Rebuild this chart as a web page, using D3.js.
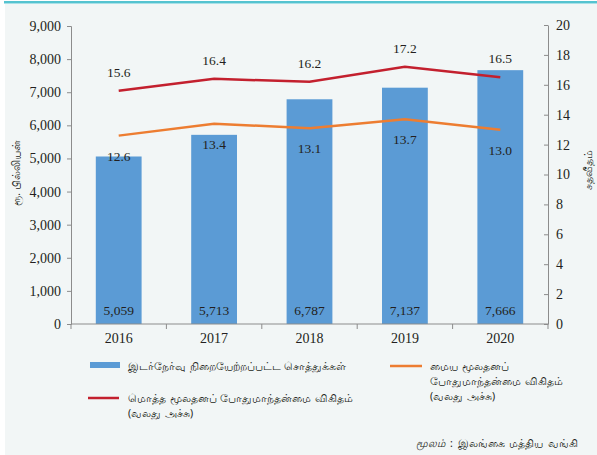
<!DOCTYPE html>
<html>
<head>
<meta charset="utf-8">
<script src="https://cdn.jsdelivr.net/npm/d3@7"></script>
<style>
  body { margin: 0; background: #fff; }
  svg { display: block; }
  .num { font-family: "Liberation Serif", "Times New Roman", serif; fill: #231f20; }
  .ta { font-family: "Noto Sans", "Lato", sans-serif; fill: #231f20; }
</style>
</head>
<body>
<svg id="canvas" width="597" height="455"></svg>
<script>
let years = ['2016', '2017', '2018', '2019', '2020'];
let assets = [5059, 5713, 6787, 7137, 7666];
let totalRatio = [15.6, 16.4, 16.2, 17.2, 16.5];
let coreRatio = [12.6, 13.4, 13.1, 13.7, 13.0];
let leftTicks = [0, 1000, 2000, 3000, 4000, 5000, 6000, 7000, 8000, 9000];
let rightTicks = [0, 2, 4, 6, 8, 10, 12, 14, 16, 18, 20];

let svg = d3.select('#canvas');

// background panel + top rule
svg.append('rect').attr('x', 5).attr('y', 4).attr('width', 592).attr('height', 451).attr('fill', '#f2f6f6');
svg.append('rect').attr('x', 4).attr('y', 1).attr('width', 593).attr('height', 2.5).attr('fill', '#55c3d0');

let plotLeft = 71, plotRight = 548, plotTop = 25, plotBottom = 324;

let x = d3.scaleBand().domain(years).range([plotLeft, plotRight]).paddingInner(0.52).paddingOuter(0.26);
let yL = d3.scaleLinear().domain([0, 9000]).range([plotBottom, plotTop + 1]);
let yR = d3.scaleLinear().domain([0, 20]).range([plotBottom, plotTop]);
let cx = (d) => x(d) + x.bandwidth() / 2;

// bars
svg.selectAll('rect.bar')
    .data(years)
    .enter()
    .append('rect')
    .attr('class', 'bar')
    .attr('x', (d) => x(d))
    .attr('width', x.bandwidth())
    .attr('y', (d, i) => yL(assets[i]))
    .attr('height', (d, i) => plotBottom - yL(assets[i]))
    .attr('fill', '#5b9bd5');

// axes
let leftAxis = svg.append('g')
    .attr('transform', 'translate(' + plotLeft + ',0)')
    .call(d3.axisLeft(yL).tickValues(leftTicks).tickSize(4).tickPadding(6).tickFormat(d3.format(',')));
let rightAxis = svg.append('g')
    .attr('transform', 'translate(' + plotRight + ',0)')
    .call(d3.axisRight(yR).tickValues(rightTicks).tickSize(0).tickPadding(8));
rightAxis.selectAll('.tick').append('line').attr('x1', -4).attr('x2', 0).attr('stroke', '#8c8c8c');

let xAxis = svg.append('g').attr('transform', 'translate(0,' + plotBottom + ')');
xAxis.append('line').attr('x1', plotLeft).attr('x2', plotRight).attr('stroke', '#8c8c8c');
let bounds = d3.range(0, years.length + 1).map((i) => plotLeft + i * (plotRight - plotLeft) / years.length);
xAxis.selectAll('line.tk')
    .data(bounds)
    .enter()
    .append('line')
    .attr('class', 'tk')
    .attr('x1', (d) => d).attr('x2', (d) => d)
    .attr('y1', 0).attr('y2', 5)
    .attr('stroke', '#8c8c8c');
xAxis.selectAll('text')
    .data(years)
    .enter()
    .append('text')
    .attr('class', 'num')
    .attr('x', (d) => cx(d))
    .attr('y', 19)
    .attr('text-anchor', 'middle')
    .style('font-size', '14px')
    .text((d) => d);

[leftAxis, rightAxis].forEach((g) => {
    g.select('.domain').attr('stroke', '#8c8c8c');
    g.selectAll('.tick line').attr('stroke', '#8c8c8c');
    g.selectAll('.tick text').attr('class', 'num').style('font-size', '14px').attr('fill', '#231f20');
});

// lines
let line = (vals) => d3.line().x((d, i) => cx(years[i])).y((d) => yR(d))(vals);
svg.append('path').attr('d', line(coreRatio)).attr('fill', 'none').attr('stroke', '#ed7d31').attr('stroke-width', 2.5);
svg.append('path').attr('d', line(totalRatio)).attr('fill', 'none').attr('stroke', '#c3202e').attr('stroke-width', 2.5);

// labels
svg.selectAll('text.tl')
    .data(totalRatio)
    .enter()
    .append('text')
    .attr('class', 'num')
    .attr('x', (d, i) => cx(years[i]))
    .attr('y', (d) => yR(d) - 14)
    .attr('text-anchor', 'middle')
    .style('font-size', '13.5px')
    .text((d) => d.toFixed(1));
svg.selectAll('text.cl')
    .data(coreRatio)
    .enter()
    .append('text')
    .attr('class', 'num')
    .attr('x', (d, i) => cx(years[i]))
    .attr('y', (d) => yR(d) + 25)
    .attr('text-anchor', 'middle')
    .style('font-size', '13.5px')
    .text((d) => d.toFixed(1));
svg.selectAll('text.bl')
    .data(assets)
    .enter()
    .append('text')
    .attr('class', 'num')
    .attr('x', (d, i) => cx(years[i]))
    .attr('y', plotBottom - 9)
    .attr('text-anchor', 'middle')
    .style('font-size', '13.5px')
    .text((d) => d3.format(',')(d));

// axis titles
svg.append('text').attr('class', 'ta')
    .attr('transform', 'translate(20,173) rotate(-90)')
    .attr('text-anchor', 'middle')
    .style('font-size', '10.5px')
    .text('ரூ. பில்லியன்');
svg.append('text').attr('class', 'ta')
    .attr('transform', 'translate(592,170) rotate(-90)')
    .attr('text-anchor', 'middle')
    .style('font-size', '10.5px')
    .text('சதவீதம்');

// legend
let lg = svg.append('g').style('font-size', '10.5px').style('word-spacing', '1px');
lg.append('rect').attr('x', 90).attr('y', 362).attr('width', 30).attr('height', 6).attr('fill', '#5b9bd5');
lg.append('text').attr('class', 'ta').attr('x', 128).attr('y', 370).text('இடர்நேர்வு நிறையேற்றப்பட்ட சொத்துக்கள்');
lg.append('line').attr('x1', 88).attr('x2', 119).attr('y1', 398).attr('y2', 398).attr('stroke', '#c3202e').attr('stroke-width', 2.5);
lg.append('text').attr('class', 'ta').attr('x', 128).attr('y', 402).text('மொத்த மூலதனப் போதுமாந்தன்மை விகிதம்');
lg.append('text').attr('class', 'ta').attr('x', 128).attr('y', 417).text('(வலது அச்சு)');
lg.append('line').attr('x1', 390).attr('x2', 422).attr('y1', 366).attr('y2', 366).attr('stroke', '#ed7d31').attr('stroke-width', 2.5);
lg.append('text').attr('class', 'ta').attr('x', 430).attr('y', 370).text('மைய மூலதனப்');
lg.append('text').attr('class', 'ta').attr('x', 430).attr('y', 385).text('போதுமாந்தன்மை விகிதம்');
lg.append('text').attr('class', 'ta').attr('x', 430).attr('y', 400).text('(வலது அச்சு)');

// source
let src = svg.append('text').attr('class', 'ta').attr('x', 578).attr('y', 447).attr('text-anchor', 'end').style('font-size', '10.5px').style('word-spacing', '2px');
src.append('tspan').style('font-style', 'italic').text('மூலம்');
src.append('tspan').text(' : இலங்கை மத்திய வங்கி');
</script>
</body>
</html>
